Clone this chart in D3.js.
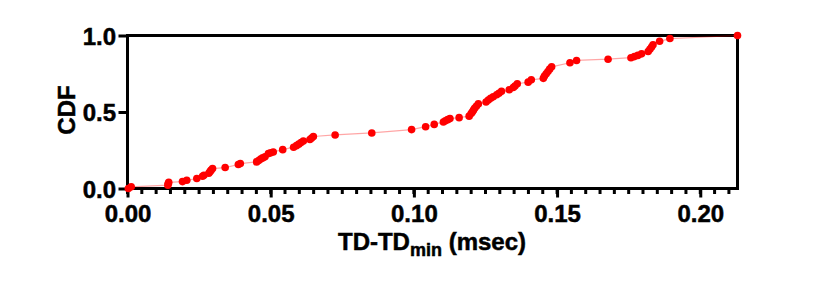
<!DOCTYPE html>
<html><head><meta charset="utf-8">
<script src="https://cdn.jsdelivr.net/npm/d3@7"></script>
<style>
html,body{margin:0;padding:0;background:#fff;}
svg{display:block;}
text{font-family:"Liberation Sans",Arial,sans-serif;font-weight:bold;stroke:#000;stroke-width:0.5px;}
</style></head>
<body>
<svg id="chart" width="840" height="287"></svg>
<script>
// Data (TD - TDmin in msec, and CDF)
const tdValues = [0.0003,0.0013,0.0141,0.0142,0.0144,0.0192,0.0207,0.0242,0.0262,0.0267,
  0.0284,0.0288,0.0292,0.0297,0.0341,0.0387,0.0394,0.0451,0.0458,0.0465,
  0.0472,0.0480,0.0492,0.0500,0.0509,0.0542,0.0580,0.0590,0.0598,0.0606,
  0.0614,0.0637,0.0643,0.0649,0.0725,0.0853,0.0992,0.1041,0.1071,0.1103,
  0.1110,0.1118,0.1126,0.1158,0.1193,0.1200,0.1204,0.1208,0.1212,0.1218,
  0.1225,0.1252,0.1260,0.1268,0.1277,0.1289,0.1297,0.1306,0.1333,0.1347,
  0.1353,0.1361,0.1399,0.1410,0.1452,0.1456,0.1462,0.1468,0.1474,0.1481,
  0.1545,0.1568,0.1678,0.1758,0.1770,0.1782,0.1795,0.1818,0.1824,0.1830,
  0.1835,0.1858,0.1894,0.2130];
const cdfValues = [0.000,0.011,0.022,0.033,0.040,0.045,0.054,0.065,0.080,0.087,
  0.100,0.110,0.120,0.130,0.137,0.157,0.163,0.174,0.183,0.192,
  0.200,0.207,0.228,0.233,0.239,0.254,0.270,0.280,0.290,0.300,
  0.310,0.320,0.330,0.340,0.350,0.363,0.385,0.404,0.419,0.435,
  0.443,0.450,0.457,0.463,0.473,0.490,0.500,0.512,0.525,0.538,
  0.553,0.565,0.578,0.590,0.600,0.613,0.623,0.635,0.645,0.660,
  0.670,0.685,0.695,0.710,0.720,0.735,0.750,0.765,0.780,0.795,
  0.822,0.837,0.845,0.855,0.862,0.870,0.880,0.895,0.910,0.925,
  0.940,0.962,0.980,1.000];
const xTicks = [0, 0.05, 0.10, 0.15, 0.20];
const xTickLabels = ["0.00","0.05","0.10","0.15","0.20"];
const xMinorTicks = d3.range(0, 0.2101, 0.005);
const yTicks = [0, 0.5, 1.0];
const yTickLabels = ["0.0","0.5","1.0"];
const xDomain = [0, 0.213];
const yDomain = [0, 1];

const data = tdValues.map((v,i)=>({x:v,y:cdfValues[i]}));
const svg = d3.select("#chart");
const L = 127.5, R = 737.5, T = 35.5, B = 188.5;
const x = d3.scaleLinear().domain(xDomain).range([L, R]);
const y = d3.scaleLinear().domain(yDomain).range([B, T]);

// frame top & right
svg.append("line").attr("x1",L).attr("x2",R+1.5).attr("y1",T).attr("y2",T)
  .attr("stroke","#000").attr("stroke-width",3);
svg.append("line").attr("x1",R).attr("x2",R).attr("y1",T).attr("y2",B)
  .attr("stroke","#000").attr("stroke-width",3);

// x axis
const gx = svg.append("g").attr("transform",`translate(0,${B})`);
gx.selectAll("line.minor").data(xMinorTicks).join("line")
  .attr("x1",d=>x(d)).attr("x2",d=>x(d)).attr("y1",0).attr("y2",5.5)
  .attr("stroke","#000").attr("stroke-width",3);
gx.call(d3.axisBottom(x).tickValues(xTicks).tickFormat((d,i)=>xTickLabels[i]).tickSize(9).tickPadding(7.5))
  .call(g=>g.select(".domain").attr("d",`M${L-1.5},0H${R+1.5}`).attr("stroke-width",3))
  .call(g=>g.selectAll(".tick line").attr("stroke-width",3))
  .call(g=>g.selectAll(".tick text").attr("font-size",24).attr("font-family","Liberation Sans, Arial").attr("font-weight","bold").attr("fill","#000"));

// y axis
const gy = svg.append("g").attr("transform",`translate(${L},0)`);
gy.call(d3.axisLeft(y).tickValues(yTicks).tickFormat((d,i)=>yTickLabels[i]).tickSize(9).tickPadding(2.5))
  .call(g=>g.select(".domain").attr("d",`M0,${T-1.5}V${B+1.5}`).attr("stroke-width",3))
  .call(g=>g.selectAll(".tick line").attr("stroke-width",3))
  .call(g=>g.selectAll(".tick text").attr("font-size",24).attr("font-family","Liberation Sans, Arial").attr("font-weight","bold").attr("fill","#000").attr("dy","0.36em"));

// line
svg.append("path").datum(data)
  .attr("d", d3.line().x(d=>x(d.x)).y(d=>y(d.y)))
  .attr("fill","none").attr("stroke","#ff0000").attr("stroke-opacity",0.35).attr("stroke-width",1.2);

// points
svg.append("g").selectAll("circle").data(data).join("circle")
  .attr("cx",d=>x(d.x)).attr("cy",d=>y(d.y)).attr("r",3.8).attr("fill","#ff0000");

// titles
const t = svg.append("text").attr("x",432).attr("y",250).attr("text-anchor","middle").attr("font-size",24);
t.append("tspan").text("TD-TD");
t.append("tspan").attr("font-size",18).attr("dy",6).text("min");
t.append("tspan").attr("dy",-6).text(" (msec)");
svg.append("text").attr("transform","translate(74.5,110) rotate(-90)").attr("text-anchor","middle")
  .attr("font-size",24).text("CDF");
</script>
</body></html>
